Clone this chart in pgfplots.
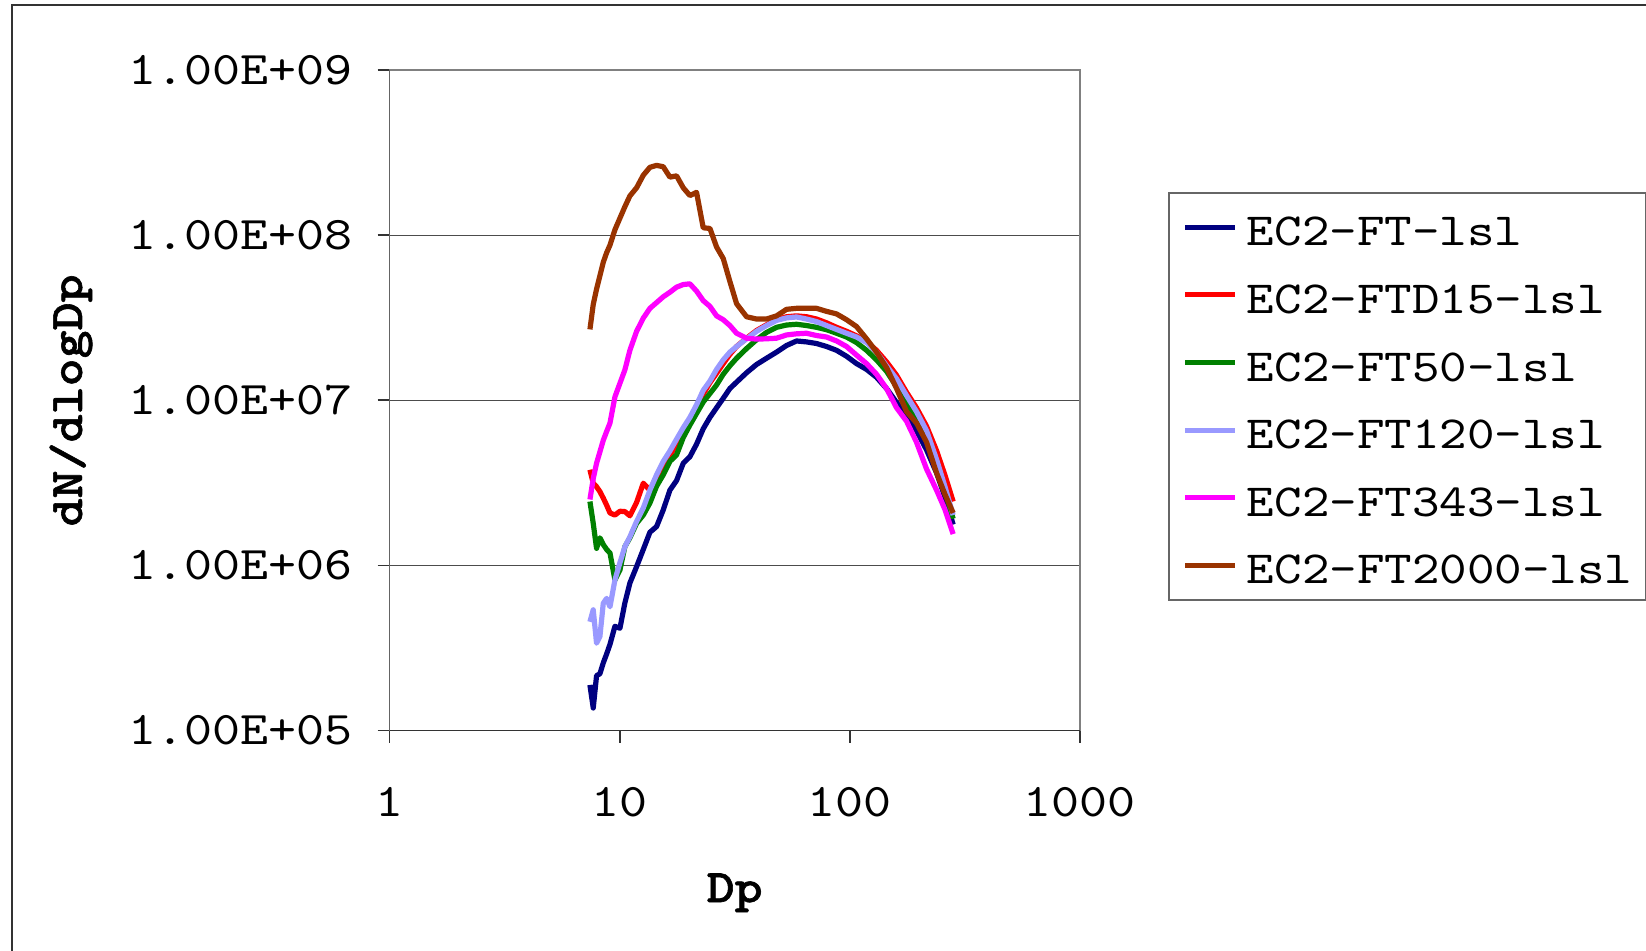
\documentclass[border=0pt]{standalone}
\usepackage{fontspec}
\setmainfont{lmmono10-regular.otf}[FakeStretch=1.14]
\newfontfamily\boldfont{lmmonolt10-bold.otf}[FakeStretch=1.14,FakeBold=1.2]
\usepackage{pgfplots}
\usepackage{pgfplotstable}
\pgfplotsset{compat=1.18}

\definecolor{cnavy}{HTML}{000080}
\definecolor{cred}{HTML}{FF0000}
\definecolor{cgreen}{HTML}{008000}
\definecolor{clblue}{HTML}{9999FF}
\definecolor{cmag}{HTML}{FF00FF}
\definecolor{cbrown}{HTML}{993300}

% size distributions, dN/dlogDp against Dp
\pgfplotstableread{
Dp    ft     ftd15  ft50   ft120  ft343  ft2000
7.43  1.89e5 3.80e6 2.44e6 4.56e5 2.51e6 2.69e7
7.68  1.37e5 3.15e6 1.80e6 5.39e5 3.36e6 3.81e7
7.94  2.15e5 3.00e6 1.27e6 3.38e5 4.16e6 4.72e7
8.21  2.21e5 2.80e6 1.47e6 3.71e5 4.88e6 5.69e7
8.49  2.57e5 2.56e6 1.34e6 5.90e5 5.73e6 6.86e7
8.78  2.91e5 2.32e6 1.25e6 6.32e5 6.48e6 7.84e7
9.08  3.33e5 2.08e6 1.19e6 5.62e5 7.29e6 8.72e7
9.54  4.28e5 2.02e6 8.17e5 8.17e5 1.05e7 1.08e8
10.03 4.17e5 2.13e6 9.38e5 1.04e6 1.27e7 1.27e8
10.54 5.93e5 2.12e6 1.30e6 1.30e6 1.53e7 1.49e8
11.08 7.83e5 2.00e6 1.47e6 1.49e6 2.01e7 1.73e8
11.85 9.84e5 2.41e6 1.80e6 1.85e6 2.62e7 1.94e8
12.67 1.25e6 3.15e6 2.02e6 2.23e6 3.15e7 2.31e8
13.54 1.59e6 2.86e6 2.39e6 2.86e6 3.61e7 2.58e8
14.47 1.72e6 3.45e6 3.02e6 3.54e6 3.91e7 2.65e8
15.47 2.17e6 3.90e6 3.54e6 4.27e6 4.24e7 2.60e8
16.54 2.86e6 4.58e6 4.27e6 4.94e6 4.52e7 2.25e8
17.68 3.27e6 5.49e6 4.68e6 5.82e6 4.85e7 2.29e8
18.90 4.16e6 6.48e6 5.95e6 6.83e6 5.03e7 1.94e8
20.20 4.56e6 7.69e6 7.09e6 7.89e6 5.08e7 1.74e8
21.59 5.43e6 8.78e6 8.33e6 9.41e6 4.59e7 1.82e8
23.08 6.73e6 1.09e7 9.77e6 1.15e7 4.02e7 1.11e8
24.68 7.89e6 1.28e7 1.10e7 1.31e7 3.71e7 1.10e8
26.38 9.02e6 1.46e7 1.24e7 1.54e7 3.25e7 8.49e7
28.20 1.03e7 1.67e7 1.44e7 1.76e7 3.08e7 7.23e7
30.14 1.18e7 1.90e7 1.62e7 1.96e7 2.84e7 5.25e7
32.23 1.29e7 2.12e7 1.80e7 2.12e7 2.55e7 3.85e7
35.61 1.47e7 2.38e7 2.06e7 2.36e7 2.38e7 3.21e7
39.36 1.65e7 2.65e7 2.33e7 2.62e7 2.35e7 3.11e7
43.49 1.80e7 2.87e7 2.58e7 2.84e7 2.36e7 3.11e7
48.07 1.96e7 3.08e7 2.77e7 3.05e7 2.38e7 3.25e7
53.12 2.15e7 3.21e7 2.86e7 3.16e7 2.49e7 3.56e7
58.71 2.29e7 3.25e7 2.89e7 3.20e7 2.53e7 3.61e7
64.89 2.26e7 3.21e7 2.84e7 3.11e7 2.55e7 3.61e7
71.72 2.21e7 3.11e7 2.77e7 3.00e7 2.47e7 3.61e7
79.27 2.12e7 2.95e7 2.68e7 2.84e7 2.42e7 3.46e7
87.61 2.01e7 2.77e7 2.55e7 2.69e7 2.29e7 3.34e7
96.83 1.85e7 2.62e7 2.42e7 2.55e7 2.12e7 3.08e7
107.0 1.67e7 2.46e7 2.24e7 2.42e7 1.88e7 2.80e7
118.3 1.54e7 2.27e7 2.01e7 2.24e7 1.67e7 2.36e7
130.7 1.38e7 2.01e7 1.76e7 1.96e7 1.44e7 1.96e7
144.5 1.18e7 1.71e7 1.50e7 1.62e7 1.18e7 1.58e7
159.7 9.72e6 1.42e7 1.21e7 1.35e7 9.02e6 1.18e7
176.5 8.11e6 1.12e7 9.51e6 1.07e7 7.48e6 8.55e6
195.0 6.55e6 9.02e6 7.48e6 8.55e6 5.58e6 7.29e6
215.6 5.01e6 6.98e6 5.89e6 6.55e6 3.84e6 5.58e6
238.3 3.64e6 4.96e6 3.94e6 4.39e6 2.86e6 3.64e6
258.9 2.61e6 3.54e6 2.82e6 3.02e6 2.19e6 2.71e6
281.4 1.77e6 2.44e6 1.92e6 2.02e6 1.55e6 2.08e6
}\psd

\begin{document}
\begin{tikzpicture}
\useasboundingbox (0,0) rectangle (411.5pt,237.75pt);
% chart area frame (only left and top edges are visible)
\draw[black!80, line width=0.45pt] (3pt,-2pt) -- (3pt,236.4pt) -- (420pt,236.4pt);
\begin{axis}[
  at={(97.375pt,55.1pt)}, anchor=south west,
  scale only axis, width=172.6pt, height=165.1pt,
  xmode=log, ymode=log,
  xmin=1, xmax=1000, ymin=1e5, ymax=1e9,
  xtick={1,10,100,1000}, xticklabels={1,10,100,1000},
  ytick={1e5,1e6,1e7,1e8,1e9},
  yticklabels={1.00E+05,1.00E+06,1.00E+07,1.00E+08,1.00E+09},
  xminorticks=false, yminorticks=false,
  ymajorgrids, major grid style={black!70, line width=0.35pt},
  axis line style={black!50, line width=0.45pt},
  tick align=outside, xtick pos=bottom, ytick pos=left,
  major tick length=3pt, tick style={black!80, line width=0.45pt},
  /pgf/number format/assume math mode=true,
  ticklabel style={font=\fontsize{11.7}{14}\selectfont, inner sep=0pt},
  yticklabel style={anchor=east, xshift=-6pt},
  xticklabel style={anchor=north, yshift=-11pt},
  label style={font=\fontsize{11.7}{14}\selectfont},
  xlabel={\boldfont Dp},
  ylabel={\boldfont dN/dlogDp},
  xlabel style={at={(rel axis cs:0.5,-0.2457)}, anchor=center},
  ylabel style={at={(rel axis cs:-0.4613,0.5)}, anchor=center},
  legend style={at={(rel axis cs:1.1274,0.8157)}, anchor=north west,
    draw=black!60, line width=0.45pt,
    font=\fontsize{11.5}{14}\selectfont,
    inner xsep=3.5pt, inner ysep=3.07pt, row sep=5.8pt, column sep=2.3pt,
    nodes={inner sep=0pt, text height=10.2pt, text depth=0.9pt}},
  legend cell align=left,
  legend image code/.code={\draw[#1, line width=1.25pt] (0pt,0pt) -- (12.5pt,0pt);},
  every axis plot/.append style={line width=1.3pt, line join=round},
]
\addplot[cnavy]  table[x=Dp, y=ft]     {\psd};
\addlegendentry{EC2-FT-lsl}
\addplot[cred]   table[x=Dp, y=ftd15]  {\psd};
\addlegendentry{EC2-FTD15-lsl}
\addplot[cgreen] table[x=Dp, y=ft50]   {\psd};
\addlegendentry{EC2-FT50-lsl}
\addplot[clblue] table[x=Dp, y=ft120]  {\psd};
\addlegendentry{EC2-FT120-lsl}
\addplot[cmag]   table[x=Dp, y=ft343]  {\psd};
\addlegendentry{EC2-FT343-lsl}
\addplot[cbrown] table[x=Dp, y=ft2000] {\psd};
\addlegendentry{EC2-FT2000-lsl}
% darker value and category axes over the grey plot-area border
\draw[black!80, line width=0.45pt] (rel axis cs:0,1) -- (rel axis cs:0,0) -- (rel axis cs:1,0);
\end{axis}
\end{tikzpicture}
\end{document}
